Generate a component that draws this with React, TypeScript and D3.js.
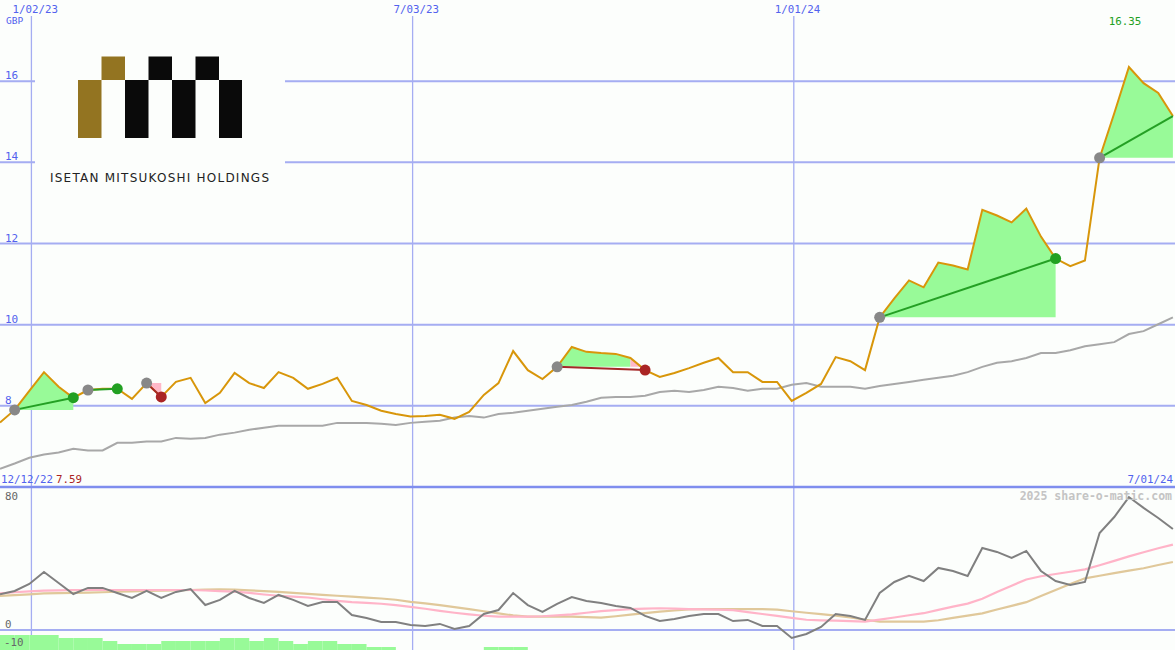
import React from "react";
import * as d3 from "d3";

const W = 1175;
const H = 650;

const START = new Date(2022, 11, 18);
const END = new Date(2024, 6, 1);

// weekly closing price (GBP)
const price = [
  7.59, 7.9, 8.37, 8.83, 8.47, 8.2, 8.39, 8.42, 8.42, 8.17,
  8.56, 8.22, 8.59, 8.69, 8.07, 8.32, 8.81, 8.56, 8.44, 8.83,
  8.69, 8.42, 8.54, 8.69, 8.12, 8.02, 7.88, 7.8, 7.74, 7.75,
  7.78, 7.68, 7.85, 8.27, 8.56, 9.35, 8.88, 8.66, 8.96, 9.45,
  9.33, 9.3, 9.28, 9.18, 8.88, 8.71, 8.81, 8.93, 9.06, 9.18,
  8.83, 8.83, 8.59, 8.59, 8.12, 8.32, 8.54, 9.2, 9.1, 8.88,
  10.18, 10.65, 11.09, 10.92, 11.53, 11.46, 11.36, 12.83, 12.69, 12.52,
  12.86, 12.17, 11.63, 11.44, 11.58, 14.11, 15.21, 16.35, 15.95, 15.71, 15.14,
];

// long moving average
const average = [
  6.45, 6.58, 6.72, 6.8, 6.85, 6.94, 6.9, 6.9, 7.09, 7.09,
  7.12, 7.12, 7.21, 7.19, 7.21, 7.29, 7.34, 7.41, 7.46, 7.51,
  7.51, 7.51, 7.51, 7.58, 7.58, 7.58, 7.56, 7.53, 7.58, 7.61,
  7.63, 7.71, 7.75, 7.71, 7.8, 7.83, 7.88, 7.93, 7.98, 8.02,
  8.1, 8.2, 8.22, 8.22, 8.25, 8.34, 8.37, 8.34, 8.39, 8.47,
  8.44, 8.37, 8.42, 8.42, 8.52, 8.56, 8.47, 8.47, 8.47, 8.42,
  8.49, 8.54, 8.59, 8.64, 8.69, 8.74, 8.83, 8.96, 9.06, 9.1,
  9.18, 9.3, 9.3, 9.37, 9.47, 9.52, 9.57, 9.77, 9.84, 10.01, 10.18,
];

// lower panel oscillator and its two smoothings
const osc = [
  22.3, 24.4, 28.8, 36.3, 29.4, 22.5, 26.3, 26.3, 23.1, 20,
  24.4, 20, 23.8, 25.6, 15.6, 18.8, 24.4, 20, 16.9, 21.9,
  18.8, 15, 17.5, 17.5, 9.4, 7.5, 5, 5, 3.1, 2.5,
  3.8, 0.6, 2.5, 10, 12.5, 23.1, 15.6, 11.3, 16.3, 20.6,
  18.1, 16.9, 15, 13.8, 8.8, 5.6, 6.9, 8.8, 10, 10,
  5.6, 6.3, 2.5, 2.5, -5, -2.5, 1.9, 10, 8.8, 6.3,
  23.1, 30, 33.8, 30.6, 38.8, 36.9, 33.8, 51.3, 48.8, 45,
  49.4, 36.9, 30.6, 28.1, 30, 60.6, 70.6, 83.1, 76.3, 70, 63.1,
];

const oscFast = [
  22.9, 23.6, 24.2, 24.6, 24.8, 25, 25, 25, 25, 25,
  25, 25, 25, 25, 24.7, 24.3, 24, 23.2, 22.2, 21.4,
  20.9, 20.3, 19.2, 18.2, 17.4, 16.9, 16.4, 15.5, 14.4, 13.3,
  12, 10.8, 9.8, 8.9, 8.3, 8.3, 8.3, 8.6, 9.2, 9.8,
  10.8, 11.8, 12.4, 13, 13.4, 13.6, 13.4, 13.1, 12.9, 12.7,
  12.4, 11.2, 10, 8.8, 7.6, 6.4, 6, 5.8, 5.5, 5.2,
  6.5, 7.8, 9.2, 10.5, 12.6, 14.6, 16.5, 19.5, 23.8, 27.7,
  31.6, 33.6, 35, 36.4, 37.9, 40.5, 43.2, 46, 48.6, 51.1, 53.4,
];

const oscSlow = [
  21.3, 21.8, 22.3, 22.9, 23, 23.2, 23.3, 23.6, 23.9, 24.1,
  24.4, 24.6, 24.8, 25, 25.2, 25.4, 25.3, 24.8, 24.3, 23.8,
  23.2, 22.6, 22, 21.4, 20.8, 20.2, 19.7, 18.9, 17.6, 16.6,
  15.5, 14.3, 13, 11.7, 10.4, 9.1, 8.3, 8.3, 8.3, 8.3,
  8, 7.7, 8.6, 9.6, 10.6, 11.5, 12.2, 12.9, 13.1, 13.1,
  13.1, 13.1, 13.1, 12.7, 11.7, 10.8, 9.9, 9, 7.8, 6.4,
  5.2, 5.2, 5.2, 5.2, 6.1, 7.6, 9, 10.4, 12.8, 15.1,
  17.4, 21.2, 25, 28.8, 32.3, 33.9, 35.5, 37.1, 38.6, 40.6, 42.5,
];

const bars = [
  5, 5, 5, 5, 4, 4, 4, 3, 2, 2,
  2, 3, 3, 3, 3, 4, 4, 3, 4, 3,
  2, 3, 3, 2, 2, 1, 1, 0, 0, 0,
  0, 0, 0, 1, 1, 1, 0, 0, 0, 0,
  0, 0, 0, 0, 0, 0, 0, 0, 0, 0,
  0, 0, 0, 0, 0, 0, 0, 0, 0, 0,
  0, 0, 0, 0, 0, 0, 0, 0, 0, 0,
  0, 0, 0, 0, 0, 0, 0, 0, 0, 0, 0,
];

// trades: entry week, exit week, last week shaded green, result
const tradeEntry = [1, 6, 10, 38, 60, 75];
const tradeExit = [5, 8, 11, 44, 72, 80];
const tradeGainEnd = [5, 8, 10, 43, 72, 80];
const tradeResult = ["gain", "gain", "loss", "loss", "gain", "open"];

const gridDates = [new Date(2023, 0, 2), new Date(2023, 6, 3), new Date(2024, 0, 1)];
const gridLabels = ["1/02/23", "7/03/23", "1/01/24"];
const priceTicks = [8, 10, 12, 14, 16];

const dates = price.map((_, i) => d3.timeDay.offset(START, 7 * i));

const MONO = "'DejaVu Sans Mono', monospace";
const BLUE = "#5262ee";
const GRID = "#a5adf2";
const BG = "#fcfefc";

const App = () => {
  const x = d3.scaleTime().domain([START, END]).range([0, W]);
  const y = d3.scaleLinear().domain([6, 18]).range([487, 0]);
  const yo = d3.scaleLinear().domain([0, 80]).range([630, 502]);
  const yb = d3.scaleLinear().domain([0, 5]).range([650, 635]);

  const line = (ys: (v: number) => number, vals: number[]) =>
    d3
      .line<number>()
      .x((_, i) => x(dates[i]))
      .y((v) => ys(v))(vals) || "";

  const shade = (from: number, to: number, level: number) => {
    const idx = d3.range(from, to + 1);
    return (
      d3
        .area<number>()
        .x((i) => x(dates[i]))
        .y0(y(level))
        .y1((i) => y(price[i]))(idx) || ""
    );
  };

  const hi = d3.maxIndex(price);

  return (
    <svg width={W} height={H} style={{ position: "absolute", left: 0, top: 0 }}>
      <defs>
        <clipPath id="upper">
          <rect x={0} y={0} width={W} height={487} />
        </clipPath>
        <clipPath id="lower">
          <rect x={0} y={488} width={W} height={H - 488} />
        </clipPath>
      </defs>
      <rect width={W} height={H} fill={BG} />

      {/* horizontal price grid */}
      {priceTicks.map((t) => (
        <g key={t}>
          <line x1={0} x2={W} y1={y(t)} y2={y(t)} stroke={GRID} strokeWidth={2} />
          <text x={5} y={y(t) - 2} fill={BLUE} fontFamily={MONO} fontSize={11}>
            {t}
          </text>
        </g>
      ))}
      <line x1={0} x2={W} y1={yo(0)} y2={yo(0)} stroke={GRID} strokeWidth={2} />

      {/* vertical date grid */}
      {gridDates.map((d, i) => (
        <g key={i}>
          <line x1={x(d)} x2={x(d)} y1={16} y2={H} stroke={GRID} strokeWidth={1.3} />
          <text x={x(d) - 19} y={13} fill={BLUE} fontFamily={MONO} fontSize={10.8}>
            {gridLabels[i]}
          </text>
        </g>
      ))}
      <text x={6} y={24} fill={BLUE} fontFamily={MONO} fontSize={9.5}>
        GBP
      </text>

      {/* logo */}
      <rect x={35} y={40} width={250} height={152} fill={BG} />
      <rect x={78} y={80} width={23.5} height={58} fill="#937421" />
      <rect x={101.5} y={56.5} width={23.5} height={23.5} fill="#937421" />
      <rect x={125} y={80} width={23.5} height={58} fill="#0a0a0a" />
      <rect x={148.5} y={56.5} width={23.5} height={23.5} fill="#0a0a0a" />
      <rect x={172} y={80} width={23.5} height={58} fill="#0a0a0a" />
      <rect x={195.5} y={56.5} width={23.5} height={23.5} fill="#0a0a0a" />
      <rect x={219} y={80} width={23} height={58} fill="#0a0a0a" />
      <text
        x={50}
        y={182}
        fill="#222"
        fontFamily="'DejaVu Sans', sans-serif"
        fontSize={12}
        textLength={219}
        lengthAdjust="spacing"
      >
        ISETAN MITSUKOSHI HOLDINGS
      </text>

      {/* trade shading */}
      <g clipPath="url(#upper)">
        {tradeEntry.map((e, k) => (
          <g key={k}>
            <path d={shade(e, tradeGainEnd[k], price[e])} fill="#98fa98" />
            {tradeGainEnd[k] < tradeExit[k] && (
              <path d={shade(tradeGainEnd[k], tradeExit[k], price[e])} fill="#ffb8c8" />
            )}
          </g>
        ))}

        <path d={line(y, average)} fill="none" stroke="#a8a8a8" strokeWidth={2} />
        <path d={line(y, price)} fill="none" stroke="#d8960a" strokeWidth={2} />

        {tradeEntry.map((e, k) => {
          const xe = tradeExit[k];
          const loss = tradeResult[k] === "loss";
          return (
            <g key={k}>
              <line
                x1={x(dates[e])}
                y1={y(price[e])}
                x2={x(dates[xe])}
                y2={y(price[xe])}
                stroke={loss ? "#a52828" : "#24a024"}
                strokeWidth={2}
              />
              <circle cx={x(dates[e])} cy={y(price[e])} r={5.5} fill="#888888" />
              {tradeResult[k] !== "open" && (
                <circle
                  cx={x(dates[xe])}
                  cy={y(price[xe])}
                  r={5.5}
                  fill={loss ? "#aa2424" : "#22a022"}
                />
              )}
            </g>
          );
        })}
      </g>

      <text
        x={x(dates[hi]) - 4}
        y={25}
        textAnchor="middle"
        fill="#22a022"
        fontFamily={MONO}
        fontSize={10.8}
      >
        {price[hi].toFixed(2)}
      </text>

      {/* divider and period labels */}
      <line x1={0} x2={W} y1={487} y2={487} stroke="#7f8eee" strokeWidth={2.5} />
      <text x={1} y={483} fill={BLUE} fontFamily={MONO} fontSize={10.8}>
        12/12/22
      </text>
      <text x={56} y={483} fill="#aa2424" fontFamily={MONO} fontSize={10.8}>
        {price[0].toFixed(2)}
      </text>
      <text x={W - 2} y={483} textAnchor="end" fill={BLUE} fontFamily={MONO} fontSize={10.8}>
        7/01/24
      </text>

      {/* lower panel */}
      <g clipPath="url(#lower)">
        {bars.map((b, i) =>
          b > 0 ? (
            <rect
              key={i}
              x={x(dates[i])}
              y={yb(b)}
              width={x(dates[i + 1] || END) - x(dates[i])}
              height={yb(0) - yb(b)}
              fill="#98fa98"
            />
          ) : null
        )}
        <path d={line(yo, oscSlow)} fill="none" stroke="#e0c89a" strokeWidth={2.2} />
        <path d={line(yo, oscFast)} fill="none" stroke="#ffb4c8" strokeWidth={2.2} />
        <path d={line(yo, osc)} fill="none" stroke="#808080" strokeWidth={2} />
      </g>
      <text x={5} y={500} fill="#666" fontFamily={MONO} fontSize={10.8}>
        80
      </text>
      <text x={5} y={628} fill="#666" fontFamily={MONO} fontSize={10.8}>
        0
      </text>
      <text x={4} y={646} fill="#666" fontFamily={MONO} fontSize={10.8}>
        -10
      </text>
      <text
        x={W - 3}
        y={500}
        textAnchor="end"
        fill="#c4c4c4"
        fontFamily={MONO}
        fontSize={11.5}
        fontWeight="bold"
      >
        2025 share-o-matic.com
      </text>
    </svg>
  );
};

export default App;
